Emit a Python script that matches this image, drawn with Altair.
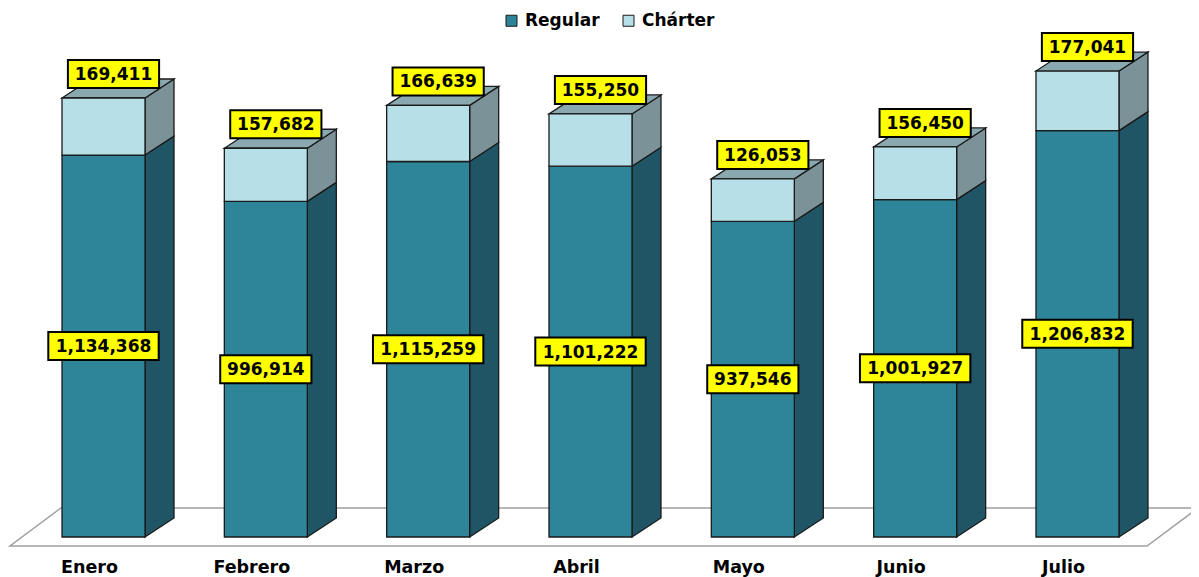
import altair as alt
import pandas as pd

# ---------------- data ----------------
months = ["Enero", "Febrero", "Marzo", "Abril", "Mayo", "Junio", "Julio"]
regular = [1134368, 996914, 1115259, 1101222, 937546, 1001927, 1206832]
charter = [169411, 157682, 166639, 155250, 126053, 156450, 177041]
series = ["Regular", "Chárter"]

# ---------------- style / layout constants ----------------
W, H = 1183, 569
ZERO_PX = 529          # svg y of value 0
Y_PER_PX = 2970        # data units per pixel (vertical)
X0_PX = 95.5           # svg x of first bar centre
STEP_PX = 162.33       # px between bar centres
BAR_PX = 83
DX_PX, DY_PX = 29, 19  # 3-D depth
REG_FRONT, REG_SIDE = "#2E8599", "#1F5565"
CHA_FRONT, CHA_SIDE = "#B7DFE8", "#7A9298"
TOP_COL = "#8AA8B0"
EDGE = "#1A1A1A"
FONT = "DejaVu Sans"


def ux(p):
    return p / STEP_PX


def uy(p):
    return p * Y_PER_PX


ymax = ZERO_PX * Y_PER_PX
ymin = ymax - H * Y_PER_PX
xmin = -X0_PX / STEP_PX
xmax = (W - X0_PX) / STEP_PX
half = ux(BAR_PX / 2)
dx, dy = ux(DX_PX), uy(DY_PX)

# ---------------- tables built from the arrays ----------------
front, side, top, boxes = [], [], [], []
for i, m in enumerate(months):
    segs = [("Regular", 0, regular[i], REG_SIDE),
            ("Chárter", regular[i], regular[i] + charter[i], CHA_SIDE)]
    for s, b, t, sc in segs:
        front.append(dict(month=m, series=s, x0=i - half, x1=i + half, y0=b, y1=t))
        key = f"{m}-{s}"
        side.append(dict(key=key, fill=sc, x=i + half, lo=b, hi=t))
        side.append(dict(key=key, fill=sc, x=i + half + dx, lo=b + dy, hi=t + dy))
    tt = regular[i] + charter[i]
    xl, xr = i - half, i + half
    for x, lo, hi in [(xl, tt, tt), (xl + dx, tt, tt + dy),
                      (xr, tt, tt + dy), (xr + dx, tt + dy, tt + dy)]:
        top.append(dict(key=m, x=x, lo=lo, hi=hi))
    for val, xc, yc in [(regular[i], i, regular[i] / 2),
                        (charter[i], i + ux(10), tt + uy(24))]:
        lab = f"{val:,}"
        w = 24 + 9.6 * len(lab)
        boxes.append(dict(label=lab, xc=xc, yc=yc,
                          x0=xc - ux(w / 2), x1=xc + ux(w / 2),
                          y0=yc - uy(14), y1=yc + uy(14)))

front_df = pd.DataFrame(front)
side_df = pd.DataFrame(side)
top_df = pd.DataFrame(top)
box_df = pd.DataFrame(boxes)
month_df = pd.DataFrame(dict(month=months,
                             x=[i - ux(14) for i in range(len(months))],
                             y=[-uy(36)] * len(months)))
last = len(months) - 1
floor_df = pd.DataFrame(dict(
    x=[-ux(93.5), -ux(42.5), last + ux(69.5), last + ux(120.5)],
    lo=[-uy(9), -uy(9), -uy(9), uy(29)],
    hi=[-uy(9), uy(29), uy(29), uy(29)],
))

xs = alt.Scale(domain=[xmin, xmax], nice=False, zero=False)
ys = alt.Scale(domain=[ymin, ymax], nice=False, zero=False)

floor = alt.Chart(floor_df).mark_area(fill="white", stroke="#A0A0A0", strokeWidth=1.5).encode(
    x=alt.X("x:Q", scale=xs, axis=None),
    y=alt.Y("lo:Q", scale=ys, axis=None),
    y2="hi:Q",
)

sides = alt.Chart(side_df).mark_area(stroke=EDGE, strokeWidth=1.3).encode(
    x=alt.X("x:Q", scale=xs, axis=None),
    y=alt.Y("lo:Q", scale=ys, axis=None),
    y2="hi:Q",
    detail="key:N",
    fill=alt.Fill("fill:N", scale=None),
)

tops = alt.Chart(top_df).mark_area(stroke=EDGE, strokeWidth=1.3, fill=TOP_COL).encode(
    x=alt.X("x:Q", scale=xs, axis=None),
    y=alt.Y("lo:Q", scale=ys, axis=None),
    y2="hi:Q",
    detail="key:N",
)

fronts = alt.Chart(front_df).mark_rect(stroke=EDGE, strokeWidth=1.3).encode(
    x=alt.X("x0:Q", scale=xs, axis=None),
    x2="x1:Q",
    y=alt.Y("y0:Q", scale=ys, axis=None),
    y2="y1:Q",
    color=alt.Color(
        "series:N",
        scale=alt.Scale(domain=series, range=[REG_FRONT, CHA_FRONT]),
        legend=alt.Legend(
            orient="none", legendX=495, legendY=4, direction="horizontal",
            title=None, symbolType="square", symbolSize=121,
            symbolStrokeColor="#1A1A1A", symbolStrokeWidth=1,
            labelFont=FONT, labelFontWeight="bold", labelFontSize=17,
            labelColor="black", columnPadding=20, labelOffset=5,
            symbolOpacity=1,
        ),
    ),
)

box = alt.Chart(box_df).mark_rect(fill="#FFFF00", stroke="black", strokeWidth=2).encode(
    x=alt.X("x0:Q", scale=xs, axis=None),
    x2="x1:Q",
    y=alt.Y("y0:Q", scale=ys, axis=None),
    y2="y1:Q",
)

txt = alt.Chart(box_df).mark_text(font=FONT, fontWeight="bold", fontSize=17,
                                  color="black", baseline="middle", align="center",
                                  dy=1).encode(
    x=alt.X("xc:Q", scale=xs, axis=None),
    y=alt.Y("yc:Q", scale=ys, axis=None),
    text="label:N",
)

mlab = alt.Chart(month_df).mark_text(font=FONT, fontWeight="bold", fontSize=17.5,
                                     color="black", baseline="alphabetic",
                                     align="center").encode(
    x=alt.X("x:Q", scale=xs, axis=None),
    y=alt.Y("y:Q", scale=ys, axis=None),
    text="month:N",
)

chart = alt.layer(floor, sides, tops, fronts, box, txt, mlab).properties(
    width=W, height=H,
    autosize=alt.AutoSizeParams(type="none"),
    padding=0,
).configure_view(stroke=None)

chart.save("out.html", embed_options={"renderer": "svg", "actions": False})
